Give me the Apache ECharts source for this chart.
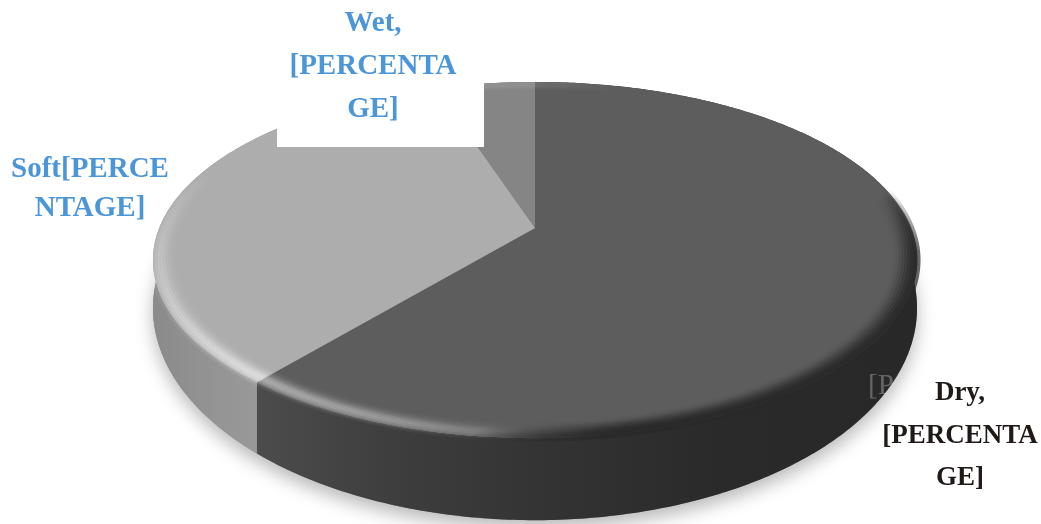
<!DOCTYPE html>
<html><head><meta charset="utf-8">
<style>html,body{margin:0;padding:0;background:#fff}#c{width:1041px;height:524px}</style>
<script src="https://cdn.jsdelivr.net/npm/echarts@6/dist/echarts.min.js"></script>
</head><body><div id="c"></div>
<script>
const categories = ['Dry', 'Soft', 'Wet'];
const values = [61, 34, 5];
const labelText = {
  Dry: 'Dry,\n[PERCENTA\nGE]',
  Soft: 'Soft[PERCE\nNTAGE]',
  Wet: 'Wet,\n[PERCENTA\nGE]'
};
const topColors = ['#5d5d5d', '#adadad', '#858585'];

const total = values.reduce((a, b) => a + b, 0);
const CX = 535, APEX = 228, R = 375.8, A = 131.3, C = -0.18;
function pt(theta, r) {
  const u = Math.sin(theta) * r, v = -Math.cos(theta) * r, w = 1 + C * v;
  return [CX + R * u / w, (A * v + APEX) / w];
}
function low(p) {
  return [p[0], 308 + (p[1] - 260) * 212 / 178];
}
function range(i) {
  let s = 0;
  for (let k = 0; k < i; k++) s += values[k];
  return [s / total * 2 * Math.PI, (s + values[i]) / total * 2 * Math.PI];
}
function arc(i, r) {
  const [a, b] = range(i), n = Math.max(8, Math.round((b - a) * 90)), out = [];
  for (let k = 0; k <= n; k++) out.push(pt(a + (b - a) * k / n, r));
  return out;
}
function grad(x, y, x2, y2, stops) {
  return { type: 'linear', global: true, x, y, x2, y2,
    colorStops: stops.map(s => ({ offset: s[0], color: s[1] })) };
}
const sideFill = [
  grad(258, 0, 916, 0, [[0, '#4c4c4c'], [0.2, '#3e3e3e'], [0.42, '#343434'], [0.7, '#2a2a2a'], [1, '#282828']]),
  grad(152, 0, 258, 0, [[0, '#8a8a8a'], [0.6, '#949494'], [1, '#999999']]),
  '#6a6a6a'
];
function renderSide(params, api) {
  const i = params.dataIndex, children = [];
  if (i === 0) {
    const ring = [];
    for (let k = 0; k < 360; k += 2) ring.push(low(pt(k * Math.PI / 180, 1)));
    children.push({ type: 'polygon', shape: { points: ring },
      style: { fill: '#888', shadowColor: 'rgba(0,0,0,0.28)', shadowBlur: 18, shadowOffsetY: 8 } });
  }
  const t = arc(i, 1), b = t.map(low).reverse();
  children.push({ type: 'polygon', shape: { points: t.concat(b) }, style: { fill: sideFill[i] } });
  return { type: 'group', children };
}
function renderTop(params, api) {
  const i = params.dataIndex;
  return { type: 'polygon', shape: { points: [[CX, APEX]].concat(arc(i, 1)) }, style: { fill: topColors[i] } };
}
const lightProfile = [0.15, 0.3, 0.45, 0.45, 0.3, 0.18, 0.08, 0.03];
const darkProfile = [0.7, 0.7, 0.55, 0.42, 0.3, 0.2, 0.1, 0.05];
function white(a) { return 'rgba(255,255,255,' + a.toFixed(3) + ')'; }
function shade(a) { return 'rgba(40,40,40,' + a.toFixed(3) + ')'; }
function renderRim(params, api) {
  const i = params.dataIndex, children = [];
  lightProfile.forEach((p, k) => {
    const pts = arc(i, 1 - 0.0075 * k);
    let stroke;
    if (i === 0) stroke = grad(258, 0, 620, 0, [[0, white(0.45 * p)], [0.4, white(0.28 * p)], [0.75, white(0.06 * p)], [1, white(0)]]);
    else if (i === 1) stroke = grad(0, 170, 0, 385, [[0, white(0)], [0.4, white(0.25 * p)], [1, white(0.6 * p)]]);
    else stroke = white(0.06 * p);
    children.push({ type: 'polyline', shape: { points: pts }, style: { fill: null, stroke, lineWidth: 7, lineCap: 'butt' } });
    if (i === 0) {
      const q = darkProfile[k];
      const dark = grad(760, 150, 860, 320, [[0, shade(0)], [0.5, shade(0)], [0.85, shade(q)], [1.0, shade(q)]]);
      children.push({ type: 'polyline', shape: { points: pts }, style: { fill: null, stroke: dark, lineWidth: 7, lineCap: 'butt' } });
    }
  });
  return { type: 'group', children };
}
const seriesData = values.map((v, i) => ({ name: categories[i], value: v }));
const FONT = 'bold 29px "Liberation Serif", serif';
const chart = echarts.init(document.getElementById('c'), null, { renderer: 'canvas' });
chart.setOption({
  animation: false,
  backgroundColor: '#ffffff',
  series: [
    { type: 'custom', coordinateSystem: 'none', z: 2, data: seriesData, renderItem: renderSide, silent: true },
    { type: 'custom', coordinateSystem: 'none', z: 3, data: seriesData, renderItem: renderTop, silent: true },
    { type: 'custom', coordinateSystem: 'none', z: 4, data: seriesData, renderItem: renderRim, silent: true }
  ],
  graphic: { elements: [
    { type: 'rect', z: 100, shape: { x: 277, y: 0, width: 207, height: 147 }, style: { fill: '#ffffff' } },
    { type: 'text', z: 101, style: { text: labelText.Wet, x: 373, y: 2, align: 'center', verticalAlign: 'top', font: FONT, lineHeight: 43, fill: '#4b96d9' } },
    { type: 'text', z: 101, style: { text: labelText.Soft, x: 90, y: 150, align: 'center', verticalAlign: 'top', font: FONT, lineHeight: 39, fill: '#4b96d9' } },
    { type: 'text', z: 99, style: { text: '[P', x: 868, y: 367, align: 'left', verticalAlign: 'top', font: '29px "Liberation Serif", serif', lineHeight: 39, fill: 'rgba(255,255,255,0.28)' } },
    { type: 'text', z: 101, style: { text: labelText.Dry, x: 960, y: 372, align: 'center', verticalAlign: 'top', font: 'bold 27px "Liberation Serif", serif', lineHeight: 42.5, fill: '#1f1a17' } }
  ] }
});
</script></body></html>
